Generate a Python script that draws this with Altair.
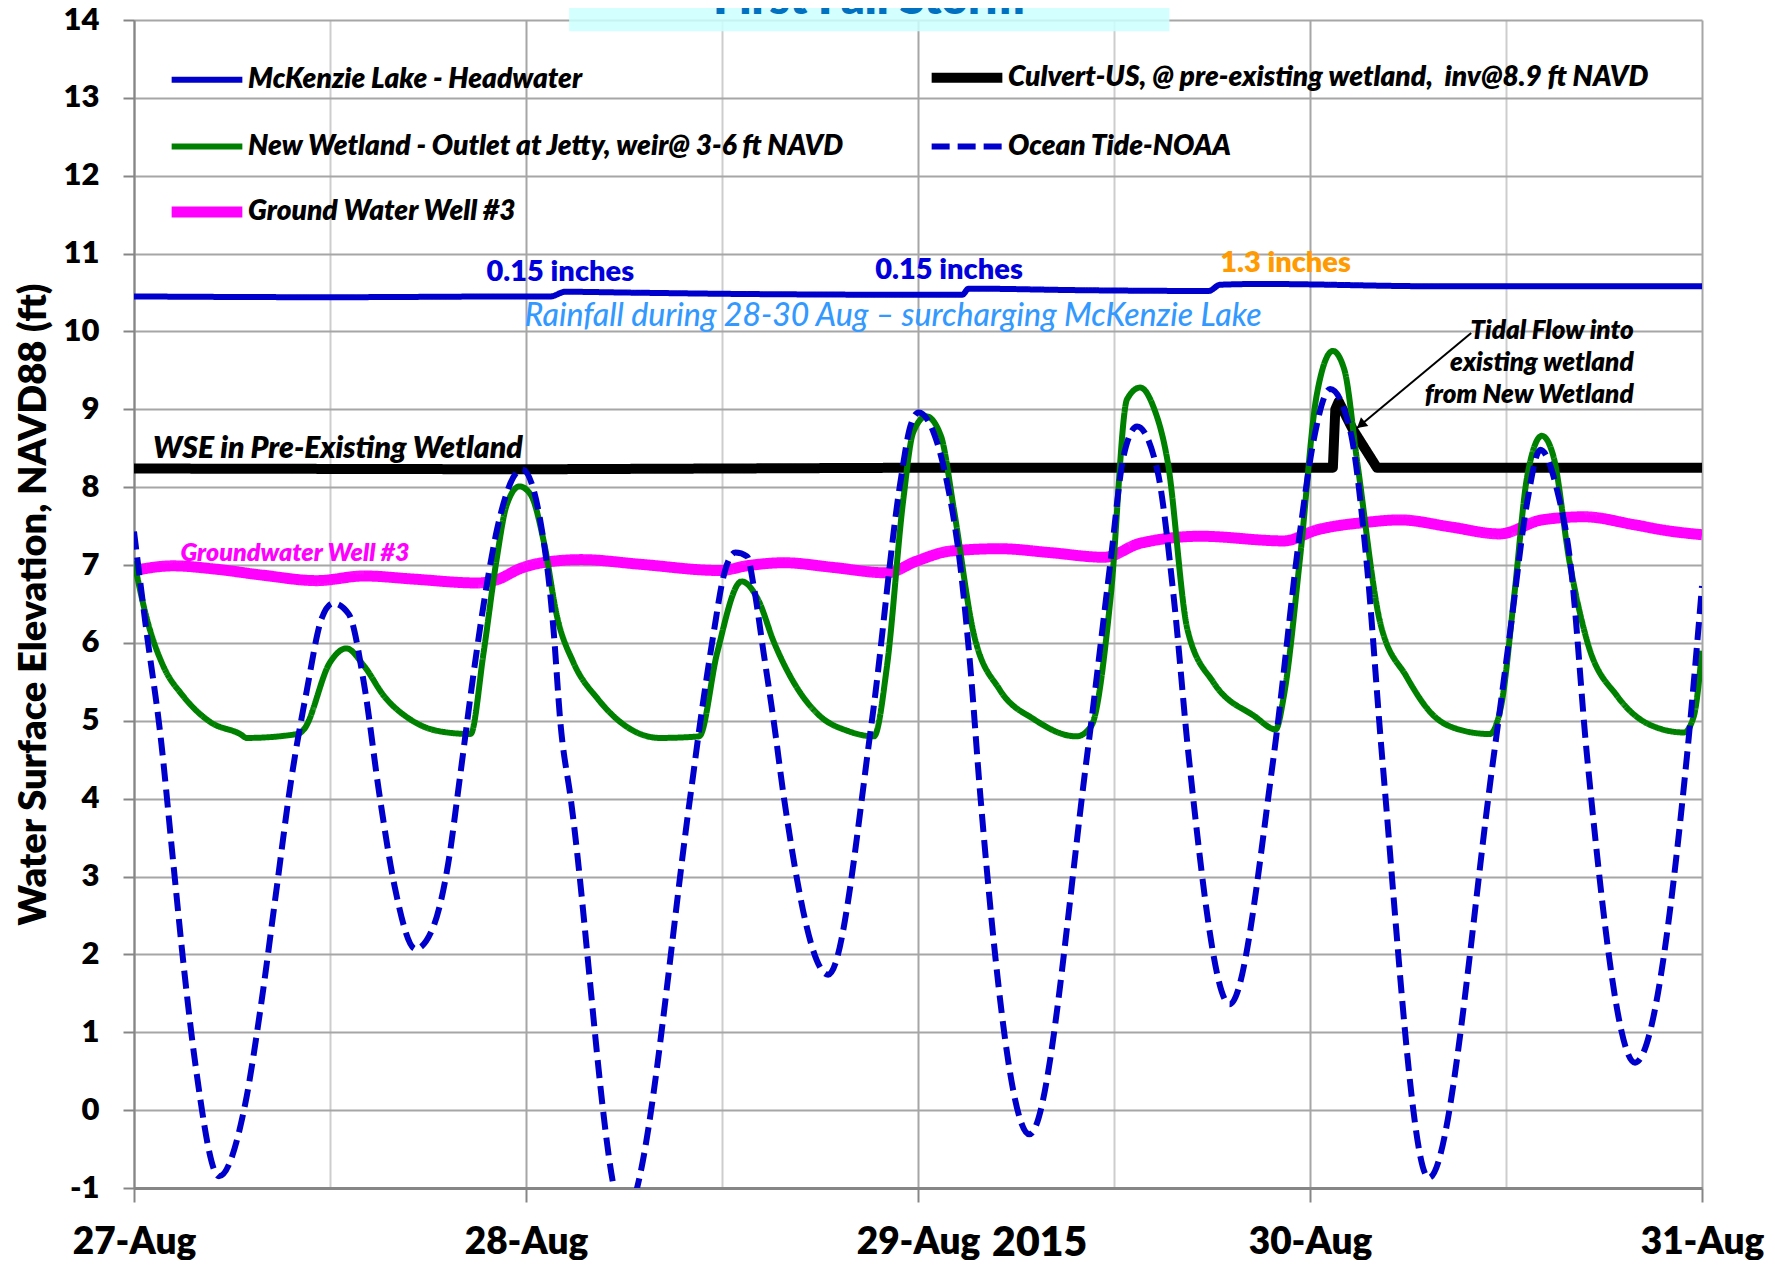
import json
import altair as alt
import pandas as pd

FONT = "Lato, Carlito, Open Sans, sans-serif"
HEAVY = 800

# ---------------- series definitions ----------------
series_names = [
    "McKenzie Lake - Headwater",
    "Culvert-US, @ pre-existing wetland,\u00a0 inv@8.9 ft NAVD",
    "New Wetland - Outlet at Jetty, weir@ 3-6 ft NAVD",
    "Ocean Tide-NOAA",
    "Ground Water Well #3",
]
series_colors = ["#0000CC", "#000000", "#008000", "#0000CC", "#FF00FF"]
series_dashes = [[1, 0], [1, 0], [1, 0], [18, 8], [1, 0]]
series_widths = [6, 10, 6, 6, 11]

# hours after 27-Aug 00:00
mck_hours = [0, 12, 24, 25.5, 26.4, 30, 38, 50.7, 51.1, 58, 65.8, 66.5, 69, 80, 96]
mck_values = [10.45, 10.44, 10.45, 10.45, 10.51, 10.50, 10.48, 10.47, 10.55, 10.53,
              10.52, 10.60, 10.61, 10.58, 10.58]

culvert_hours = [0, 24, 48, 73.4, 73.55, 73.76, 74.6, 76.1, 96]
culvert_values = [8.24, 8.23, 8.25, 8.25, 9.0, 9.10, 8.75, 8.25, 8.25]

wetland_hours = [0, 0.8, 1.8, 3.0, 4.7, 6.5, 6.9, 10.0, 10.4, 12.0, 13.0, 14.1, 15.3, 16.9,
                 18.6, 20.6, 21.4, 22.2, 22.8, 23.6, 24.3, 25.1, 25.9, 26.9, 28.4, 29.8,
                 32.2, 34.6, 35.7, 37.2, 38.2, 39.2, 40.4, 42.0, 43.7, 45.3, 46.1, 47.1,
                 47.7, 48.5, 49.4, 50.2, 51.4, 53.0, 55.1, 57.7, 58.6, 59.8, 60.8, 61.6,
                 62.4, 63.3, 64.5, 66.1, 68.6, 69.9, 70.4, 71.4, 72.4, 73.4, 74.1, 74.9,
                 76.3, 77.9, 79.6, 80.8, 83.0, 83.7, 84.5, 85.3, 86.2, 86.9, 87.9, 89.0,
                 90.8, 92.8, 94.9, 95.5, 96.0]
wetland_values = [7.05, 6.30, 5.70, 5.32, 4.98, 4.83, 4.78, 4.83, 4.89, 5.75, 5.93, 5.70,
                  5.32, 5.02, 4.87, 4.83, 5.87, 7.07, 7.76, 8.01, 7.90, 7.29, 6.34, 5.75,
                  5.28, 4.98, 4.78, 4.80, 5.87, 6.79, 6.56, 6.00, 5.49, 5.06, 4.87, 4.80,
                  5.70, 7.84, 8.70, 8.91, 8.66, 7.71, 6.13, 5.40, 5.02, 4.80, 4.93, 6.60,
                  9.13, 9.28, 9.04, 8.31, 6.17, 5.49, 5.06, 4.89, 5.32, 7.11, 9.17, 9.75,
                  9.51, 8.31, 6.26, 5.57, 5.06, 4.91, 4.83, 5.19, 6.60, 8.14, 8.66, 8.40,
                  7.03, 6.00, 5.32, 4.95, 4.85, 5.06, 5.90]

tide_hours = [0, 0.72, 1.66, 2.36, 3.07, 3.77, 5.2, 6.81, 7.75, 8.69, 9.63, 10.57, 11.5,
              12.2, 13.15, 14.08, 15.02, 15.95, 17.24, 18.3, 19.24, 19.94, 20.87, 21.57,
              22.23, 23.76, 25.29, 25.7, 26.1, 26.72, 30.0, 34.06, 34.68, 35.49, 36.1,
              36.82, 37.54, 37.94, 38.55, 39.17, 39.78, 42.5, 45.19, 46.92, 47.53, 48.04,
              48.96, 49.78, 50.59, 51.2, 51.82, 54.82, 58.35, 59.78, 60.59, 61.41, 62.64,
              63.65, 64.57, 67.08, 69.78, 71.41, 72.23, 73.23, 74.45, 75.47, 76.41, 79.27,
              83.25, 84.27, 85.29, 86.10, 87.12, 87.94, 88.96, 91.9, 95.08, 96.0]
tide_values = [7.43, 6.22, 4.74, 3.27, 1.80, 0.57, -0.85, 0.08, 1.31, 2.78, 4.25, 5.38,
               6.32, 6.51, 6.37, 5.48, 4.06, 2.88, 2.07, 2.34, 3.17, 4.25, 5.73, 6.71, 7.46,
               8.23, 6.99, 6.13, 4.99, 4.03, -1.35, 4.03, 5.0, 6.13, 6.86, 7.16, 7.11, 6.73,
               5.87, 4.99, 4.03, 1.74, 5.02, 8.06, 8.78, 8.96, 8.70, 8.06, 6.99, 5.70, 4.03,
               -0.31, 4.55, 7.03, 8.40, 8.78, 8.23, 6.60, 4.55, 1.36, 4.55, 7.46, 8.61, 9.26,
               8.74, 7.03, 4.55, -0.87, 4.55, 6.17, 7.80, 8.48, 7.97, 7.03, 4.55, 0.61, 4.55,
               6.73]

gw_hours = [0, 2.4, 4.9, 7.9, 11.2, 14.1, 17.1, 21.0, 22.2, 23.7, 25.3, 27.4, 31.0, 35.9,
            37.5, 39.8, 42.8, 46.1, 47.9, 50.0, 53.0, 56.1, 59.4, 61.6, 65.3, 70.4, 72.4,
            75.5, 77.5, 80.6, 83.6, 86.2, 88.8, 91.8, 93.9, 96.0]
gw_values = [6.93, 6.99, 6.95, 6.87, 6.80, 6.86, 6.82, 6.77, 6.81, 6.96, 7.04, 7.07, 7.01,
             6.93, 6.99, 7.03, 6.97, 6.90, 7.05, 7.18, 7.21, 7.16, 7.10, 7.28, 7.37, 7.31,
             7.45, 7.55, 7.58, 7.49, 7.40, 7.58, 7.62, 7.52, 7.44, 7.39]

# ---------------- axis labels ----------------
day_labels = ["27-Aug", "28-Aug", "29-Aug", "30-Aug", "31-Aug"]
x_grid_hours = list(range(0, 97, 12))
y_ticks = list(range(-1, 15))
y_title = "Water Surface Elevation, NAVD88 (ft)"
year_text, year_hour, year_value = "2015", 55.45, -1.87

# ---------------- annotations ----------------
rain_texts = ["0.15 inches", "0.15 inches"]
rain_hours = [26.1, 49.9]
rain_values = [10.645, 10.67]
heavy_rain_text, heavy_rain_hour, heavy_rain_value = "1.3 inches", 70.5, 10.76
rainfall_note, rainfall_hour, rainfall_value = (
    "Rainfall during 28-30 Aug \u2013 surcharging McKenzie Lake", 46.47, 10.07)
wse_note, wse_hour, wse_value = "WSE in Pre-Existing Wetland", 1.17, 8.37
gw_note, gw_note_hour, gw_note_value = "Groundwater Well #3", 2.84, 7.05
tidal_lines = ["Tidal Flow into", "existing wetland", "from New Wetland"]
tidal_hour = 91.82
tidal_values = [9.90, 9.49, 9.08]
arrow_start = (81.87, 9.98)
arrow_end = (74.88, 8.76)
arrow_head = (75.19, 8.815)
title_text, title_hour, title_value = "First Fall Storm", 45.0, 14.08
title_box_hours = (26.64, 63.39)
title_box_values = (13.855, 14.8)

# ---------------- data frames ----------------
def frame(name, hours, values):
    return pd.DataFrame({"series": name, "hour": hours, "value": values})

series_data = {
    series_names[0]: frame(series_names[0], mck_hours, mck_values),
    series_names[1]: frame(series_names[1], culvert_hours, culvert_values),
    series_names[2]: frame(series_names[2], wetland_hours, wetland_values),
    series_names[3]: frame(series_names[3], tide_hours, tide_values),
    series_names[4]: frame(series_names[4], gw_hours, gw_values),
}

x_scale = alt.Scale(domain=[0, 96], nice=False, zero=False)
y_scale = alt.Scale(domain=[-1, 14], nice=False, zero=False)

label_arr = json.dumps(day_labels)
x_axis = alt.Axis(
    values=x_grid_hours,
    labelExpr=f"datum.value % 24 === 0 ? {label_arr}[datum.value / 24] : ''",
    grid=True,
    gridColor={"condition": {"test": "datum.value % 24 === 0", "value": "#A6A6A6"},
               "value": "#CDCDCD"},
    gridWidth=2,
    tickColor={"condition": {"test": "datum.value % 24 !== 0", "value": "transparent"},
               "value": "#868686"},
    tickSize=14, tickWidth=2,
    domainColor="#868686", domainWidth=3,
    labelFont=FONT, labelFontSize=37, labelFontWeight=HEAVY, labelColor="#000000",
    labelPadding=22, labelOverlap=False, labelFlush=False,
    title=None,
)
y_axis = alt.Axis(
    values=y_ticks,
    labelExpr="'' + datum.value",
    grid=True, gridColor="#A6A6A6", gridWidth=2,
    tickColor="#868686", tickSize=11, tickWidth=2,
    domainColor="#868686", domainWidth=2,
    labelFont=FONT, labelFontSize=31, labelFontWeight=HEAVY, labelColor="#000000",
    labelPadding=24, labelOverlap=False,
    title=y_title, titleFont=FONT, titleFontSize=38, titleFontWeight=HEAVY,
    titleColor="#000000", titlePadding=10,
)

X = alt.X("hour:Q", scale=x_scale, axis=x_axis)
Y = alt.Y("value:Q", scale=y_scale, axis=y_axis)

legend = alt.Legend(
    title=None, orient="none", legendX=32, legendY=17, columns=2, direction="horizontal",
    symbolType="stroke", symbolSize=5000,
    labelFont=FONT, labelFontSize=28, labelFontWeight=HEAVY, labelFontStyle="italic",
    labelColor="#000000", labelLimit=1500, labelOffset=0,
    rowPadding=10, columnPadding=66,
)
color_enc = alt.Color("series:N", scale=alt.Scale(domain=series_names, range=series_colors),
                      legend=legend)
dash_enc = alt.StrokeDash("series:N", scale=alt.Scale(domain=series_names, range=series_dashes),
                          legend=legend)
width_enc = alt.StrokeWidth("series:N",
                            scale=alt.Scale(type="ordinal", domain=series_names,
                                            range=series_widths),
                            legend=legend)

def series_layer(name, interp):
    return alt.Chart(series_data[name]).mark_line(
        interpolate=interp, clip=True, strokeJoin="round"
    ).encode(x=X, y=Y, color=color_enc, strokeDash=dash_enc, strokeWidth=width_enc)

draw_order = [(series_names[0], "monotone"), (series_names[4], "monotone"),
              (series_names[1], "linear"), (series_names[2], "monotone"),
              (series_names[3], "monotone")]
line_layers = [series_layer(n, i) for n, i in draw_order]

# title box
box_df = pd.DataFrame({"hour": [title_box_hours[0]], "hour2": [title_box_hours[1]],
                       "value": [title_box_values[0]], "value2": [title_box_values[1]]})
box = alt.Chart(box_df).mark_rect(color="#CCFFFF", opacity=0.85).encode(
    x=X, x2="hour2:Q", y=Y, y2="value2:Q")

def text_layer(texts, hours, values, color, size, weight=HEAVY, style="normal",
               align="center"):
    df = pd.DataFrame({"label": texts, "hour": hours, "value": values})
    return alt.Chart(df).mark_text(
        font=FONT, fontSize=size, fontWeight=weight, fontStyle=style, color=color,
        align=align, baseline="alphabetic"
    ).encode(x=X, y=Y, text="label:N")

title_layer = text_layer([title_text], [title_hour], [title_value], "#0070C0", 46)
rain_layer = text_layer(rain_texts, rain_hours, rain_values, "#0000DD", 29)
heavy_layer = text_layer([heavy_rain_text], [heavy_rain_hour], [heavy_rain_value], "#FF9A00", 29)
note_layer = text_layer([rainfall_note], [rainfall_hour], [rainfall_value], "#3399FF", 32,
                        weight=500, style="italic")
wse_layer = text_layer([wse_note], [wse_hour], [wse_value], "#000000", 30, style="italic",
                       align="left")
gwn_layer = text_layer([gw_note], [gw_note_hour], [gw_note_value], "#FF00FF", 25,
                       style="italic", align="left")
tidal_layer = text_layer(tidal_lines, [tidal_hour] * len(tidal_lines), tidal_values, "#000000",
                         26, style="italic", align="right")
year_layer = text_layer([year_text], [year_hour], [year_value], "#000000", 41)

arrow_df = pd.DataFrame({"hour": [arrow_start[0]], "value": [arrow_start[1]],
                         "hour2": [arrow_end[0]], "value2": [arrow_end[1]]})
arrow_line = alt.Chart(arrow_df).mark_rule(color="#000000", strokeWidth=2).encode(
    x=X, y=Y, x2="hour2:Q", y2="value2:Q")
head_df = pd.DataFrame({"hour": [arrow_head[0]], "value": [arrow_head[1]]})
arrow_tip = alt.Chart(head_df).mark_point(
    shape="triangle", filled=True, color="#000000", size=130, angle=230, opacity=1
).encode(x=X, y=Y)

chart = alt.layer(
    box, *line_layers, rain_layer, heavy_layer, note_layer, wse_layer, gwn_layer,
    tidal_layer, arrow_line, arrow_tip, year_layer, title_layer,
).properties(
    width=1568, height=1168,
    autosize=alt.AutoSizeParams(type="none"),
    padding={"left": 126, "top": 12, "right": 64, "bottom": 72},
    background="#FFFFFF",
).configure_view(strokeWidth=0)

chart.save("out.html", embed_options={"renderer": "svg", "actions": False})
